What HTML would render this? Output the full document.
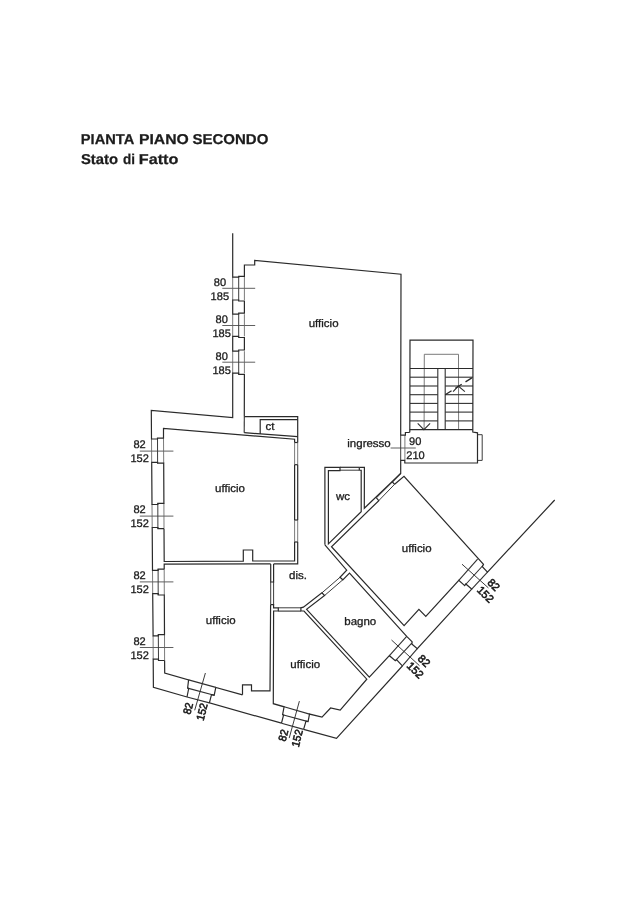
<!DOCTYPE html>
<html lang="it">
<head>
<meta charset="utf-8">
<title>Pianta Piano Secondo - Stato di Fatto</title>
<style>
html,body{margin:0;padding:0;background:#fff;}
body{width:636px;height:900px;overflow:hidden;}
svg{display:block;will-change:transform;}
svg text{font-family:"Liberation Sans",sans-serif;text-rendering:geometricPrecision;fill:#1c1c1c;stroke:#1c1c1c;stroke-width:0.3;}
svg text.r{stroke-width:0.6;}
svg text.ttl{stroke-width:0.25;}
.h path{stroke:#2a2a2a;stroke-width:1.2;fill:none;stroke-linejoin:miter;}
.m path{stroke:#303030;stroke-width:1.1;fill:none;}
.t path{stroke:#3c3c3c;stroke-width:1;fill:none;}
.t2 path{stroke:#6c6c6c;stroke-width:0.9;fill:none;}
.d path{stroke:#606060;stroke-width:1;fill:none;}
</style>
</head>
<body>
<svg width="636" height="900" viewBox="0 0 636 900">
<rect width="636" height="900" fill="#ffffff"/>
<g class="t2">
<path d="M232.7,277.0 L232.7,300.0"/>
<path d="M244.4,277.0 L244.4,300.0"/>
<path d="M232.7,314.2 L232.7,336.3"/>
<path d="M244.4,314.2 L244.4,336.3"/>
<path d="M232.7,351.2 L232.7,373.2"/>
<path d="M244.4,351.2 L244.4,373.2"/>
<path d="M151.5,439.0 L151.7,462.4"/>
<path d="M163.5,438.2 L163.7,463.2"/>
<path d="M152.0,504.5 L152.2,527.5"/>
<path d="M163.9,503.3 L164.0,528.7"/>
<path d="M152.5,570.3 L152.7,593.7"/>
<path d="M164.2,569.2 L164.3,595.0"/>
<path d="M153.1,635.8 L153.2,659.2"/>
<path d="M164.5,634.7 L164.6,660.5"/>
<path d="M404.9,435.2 L404.9,460.3"/>
<path d="M424.1,429.6 L424.3,354.3 L458.5,354.3 L458.6,429.6"/>
<path d="M294.6,442.5 L294.6,464.7"/>
<path d="M294.6,520.0 L294.6,542.0"/>
<path d="M297.7,442.5 L297.7,464.7"/>
<path d="M297.7,520.0 L297.7,542.0"/>
</g>
<g class="d">
<path d="M222.3,288.3 L255.2,288.3"/>
<path d="M222.3,325.5 L255.2,325.5"/>
<path d="M222.3,362.2 L255.2,362.2"/>
<path d="M139.8,451.1 L173.4,451.1"/>
<path d="M139.8,516.1 L173.4,516.1"/>
<path d="M139.8,581.9 L173.4,581.9"/>
<path d="M139.8,647.5 L173.4,647.5"/>
<path d="M390.6,448.0 L415.8,448.0"/>
</g>
<g class="t">
<path d="M238.7,277.0 L238.7,300.0"/>
<path d="M238.7,314.2 L238.7,336.3"/>
<path d="M238.7,351.2 L238.7,373.2"/>
<path d="M157.5,438.2 L157.6,463.2"/>
<path d="M157.8,503.3 L157.9,528.7"/>
<path d="M158.1,569.2 L158.2,595.0"/>
<path d="M158.3,634.7 L158.5,660.5"/>
<path d="M205.4,673.0 L194.7,710.3"/>
<path d="M270.7,582.0 L270.7,604.7"/>
<path d="M273.6,582.0 L273.6,604.7"/>
<path d="M278.3,607.8 L300.9,607.8"/>
<path d="M299.4,701.1 L289.2,738.1"/>
<path d="M321.9,592.9 L340.0,577.3"/>
<path d="M324.6,595.5 L342.8,579.8"/>
<path d="M391.5,640.0 L419.5,665.7"/>
<path d="M462.0,564.2 L488.4,587.9"/>
<path d="M376.4,497.9 L392.4,481.9"/>
<path d="M378.8,500.6 L394.6,484.3"/>
<path d="M340.0,470.2 L359.3,470.2"/>
<path d="M400.7,435.2 L400.7,460.3"/>
<path d="M477.5,434.7 L482.2,434.7 L482.2,460.4 L477.5,460.4"/>
</g>
<g class="m">
<path d="M244.3,416.6 L244.2,432.7"/>
<path d="M188.6,679.9 L215.8,687.4"/>
<path d="M187.0,697.0 L209.4,702.9"/>
<path d="M187.6,688.1 L214.2,695.2"/>
<path d="M278.3,611.1 L300.9,611.1"/>
<path d="M284.1,706.8 L309.5,714.1"/>
<path d="M281.5,723.2 L303.6,729.4"/>
<path d="M282.6,714.7 L308.1,721.6"/>
<path d="M389.4,655.7 L406.7,636.4"/>
<path d="M402.4,665.9 L417.3,648.6"/>
<path d="M395.7,660.4 L412.0,642.9"/>
<path d="M458.8,580.3 L477.6,559.2"/>
<path d="M471.7,589.1 L487.5,572.1"/>
<path d="M465.2,585.0 L482.9,565.5"/>
<path d="M410.0,377.2 L437.8,377.2"/>
<path d="M445.2,377.2 L473.0,377.2"/>
<path d="M410.0,386.0 L437.8,386.0"/>
<path d="M445.2,386.0 L473.0,386.0"/>
<path d="M410.0,394.7 L437.8,394.7"/>
<path d="M445.2,394.7 L473.0,394.7"/>
<path d="M410.0,403.4 L437.8,403.4"/>
<path d="M445.2,403.4 L473.0,403.4"/>
<path d="M410.0,412.1 L437.8,412.1"/>
<path d="M445.2,412.1 L473.0,412.1"/>
<path d="M410.0,420.9 L437.8,420.9"/>
<path d="M445.2,420.9 L473.0,420.9"/>
<path d="M437.8,368.5 L437.8,429.6"/>
<path d="M445.2,368.5 L445.2,429.6"/>
<path d="M417.7,423.3 L423.9,429.6 L430.1,423.3"/>
<path d="M453.1,391.7 L458.3,386.1 L464.9,391.7"/>
</g>
<g class="h">
<path d="M232.7,233.3 L232.7,277.1 L238.7,277.1 L238.7,276.3 L244.4,276.3 L244.4,265.0 L254.7,265.0 L254.7,260.3 L401.0,274.2 L400.7,435.2 L405.4,435.2 L405.4,432.5 L409.0,432.5 L409.8,431.9 L410.0,340.1 L473.0,340.1 L472.8,432.1 L477.5,432.8 L477.5,463.0 L404.8,463.0 L404.8,460.3 L400.7,460.3 L400.7,473.4 L364.3,508.3 L364.4,467.3 L359.3,467.3"/>
<path d="M232.7,300.0 L238.7,300.0 L238.7,301.0 L244.4,301.0 L244.4,313.1 L238.7,313.1 L238.7,314.2 L232.7,314.2 Z"/>
<path d="M232.7,336.3 L238.7,336.3 L238.7,337.5 L244.4,337.5 L244.4,350.0 L238.7,350.0 L238.7,351.2 L232.7,351.2 Z"/>
<path d="M244.3,416.6 L244.4,374.3 L238.7,374.3 L238.7,373.2 L232.7,373.2 L232.7,417.5 L151.3,410.5 L151.5,439.0 L157.5,439.0 L157.5,438.2 L163.5,438.2 L163.5,428.5 L294.6,439.2 L294.6,442.5"/>
<path d="M244.3,416.6 L297.7,416.6 L297.7,442.5"/>
<path d="M244.2,432.7 L297.7,436.7"/>
<path d="M260.2,433.9 L260.2,419.7 L297.7,419.7"/>
<path d="M151.7,462.4 L157.6,462.4 L157.6,463.2 L163.7,463.2 L163.9,503.3 L157.8,503.3 L157.8,504.5 L152.0,504.5 Z"/>
<path d="M164.0,528.7 L157.9,528.7 L157.9,527.5 L152.2,527.5 L152.5,570.3 L158.1,570.3 L158.1,569.2 L164.2,569.2"/>
<path d="M164.0,528.7 L164.2,561.5 L243.3,561.1 L243.3,550.0 L252.7,550.0 L252.7,561.0 L294.6,560.8 L294.6,542.0"/>
<path d="M164.2,569.2 L164.2,564.2 L270.7,563.9"/>
<path d="M273.6,563.9 L297.7,563.8 L297.7,542.0"/>
<path d="M152.7,593.7 L158.2,593.7 L158.2,595.0 L164.3,595.0 L164.5,634.7 L158.3,634.7 L158.3,635.8 L153.1,635.8 Z"/>
<path d="M164.6,660.5 L158.5,660.5 L158.5,659.2 L153.2,659.2 L153.4,687.3 L187.0,697.0"/>
<path d="M164.6,660.5 L164.7,673.0 L188.6,679.9 L187.6,688.1 L188.7,688.5 L187.0,697.0"/>
<path d="M242.5,694.8 L215.8,687.4 L214.2,695.2 L211.5,694.6 L209.4,702.9 L281.5,723.2"/>
<path d="M242.5,694.8 L242.5,684.8 L251.5,684.8 L251.5,690.9 L270.0,690.9 L270.6,604.7"/>
<path d="M270.7,563.9 L270.7,582.0 L273.6,582.0 L273.6,563.9"/>
<path d="M270.7,604.7 L273.6,604.7 L273.6,607.8 L278.3,607.8 L278.3,611.0 L273.6,611.0 L273.3,703.7 L284.1,706.8 L282.6,714.7 L283.6,715.0 L281.5,723.2"/>
<path d="M303.6,729.4 L306.0,721.1 L308.1,721.6 L309.5,714.1 L322.0,717.1 L330.6,708.0 L340.2,710.1 L366.8,679.2 L304.0,611.0 L300.9,611.0 L300.9,607.8 L303.4,607.2 L321.9,592.9 L324.6,595.5 L306.6,609.3 L369.3,677.2 L389.4,655.7 L395.3,660.8 L396.5,659.6 L402.4,665.9 L336.5,738.4 L303.6,729.4"/>
<path d="M324.9,544.8 L346.7,570.2 L340.0,577.3 L342.8,579.8 L349.5,573.0 L406.7,636.4 L412.2,641.9 L411.8,643.9 L417.3,648.6 L471.7,589.1 L465.8,584.0 L464.7,585.6 L458.8,580.3 L425.8,616.4 L418.9,609.3 L404.1,625.7 L331.5,546.7 L378.8,500.6 L376.4,497.9"/>
<path d="M394.6,484.3 L392.4,481.9 L400.7,473.4"/>
<path d="M394.6,484.3 L404.0,476.3 L483.5,564.3 L482.3,566.7 L487.5,572.1 L554.7,500.0"/>
<path d="M359.3,467.3 L359.3,470.0 L361.2,470.3 L361.2,511.8 L328.4,543.9 L328.4,470.6 L340.0,470.6 L340.0,467.3 L324.9,467.3 L324.9,544.8"/>
<path d="M340.0,467.3 L359.3,467.3"/>
<path d="M410.0,368.5 L473.0,368.5"/>
<path d="M409.8,429.6 L472.8,429.6"/>
<path d="M294.6,464.7 L294.6,520.0"/>
<path d="M297.7,464.7 L297.7,520.0"/>
<path d="M294.6,442.5 L297.7,442.5"/>
<path d="M294.6,464.7 L297.7,464.7"/>
<path d="M294.6,520.0 L297.7,520.0"/>
<path d="M294.6,542.0 L297.7,542.0"/>
<path d="M445.2,394.7 L472.5,377.5" stroke-dasharray="7.5 4.5" style="stroke-width:1.3"/>
</g>
<g opacity="0.999">
<text class="ttl" y="144.2" font-size="14.3" font-weight="bold"><tspan x="80.8" textLength="52.9" lengthAdjust="spacingAndGlyphs">PIANTA</tspan> <tspan x="138.9" textLength="49.9" lengthAdjust="spacingAndGlyphs">PIANO</tspan> <tspan x="192.4" textLength="76.0" lengthAdjust="spacingAndGlyphs">SECONDO</tspan></text>
<text class="ttl" y="164.0" font-size="14.3" font-weight="bold"><tspan x="81.0" textLength="37.0" lengthAdjust="spacingAndGlyphs">Stato</tspan> <tspan x="122.9" textLength="12.0" lengthAdjust="spacingAndGlyphs">di</tspan> <tspan x="138.8" textLength="39.6" lengthAdjust="spacingAndGlyphs">Fatto</tspan></text>
<text transform="translate(308.70 326.65) scale(1.045 1)" font-size="11">ufficio</text>
<text transform="translate(265.40 430.35) scale(1.045 1)" font-size="11">ct</text>
<text transform="translate(347.30 446.50) scale(1.045 1)" font-size="11">ingresso</text>
<text transform="translate(215.10 491.55) scale(1.045 1)" font-size="11">ufficio</text>
<text transform="translate(336.00 499.75) scale(1.045 1)" font-size="11">wc</text>
<text transform="translate(401.75 552.05) scale(1.045 1)" font-size="11">ufficio</text>
<text transform="translate(289.00 578.75) scale(1.045 1)" font-size="11">dis.</text>
<text transform="translate(205.80 623.85) scale(1.045 1)" font-size="11">ufficio</text>
<text transform="translate(344.30 624.50) scale(1.045 1)" font-size="11">bagno</text>
<text transform="translate(290.30 668.20) scale(1.045 1)" font-size="11">ufficio</text>
<text transform="translate(213.80 285.60) scale(1.005 1)" font-size="11">80</text>
<text transform="translate(210.60 299.70) scale(1.005 1)" font-size="11">185</text>
<text transform="translate(215.50 322.80) scale(1.005 1)" font-size="11">80</text>
<text transform="translate(212.40 336.60) scale(1.005 1)" font-size="11">185</text>
<text transform="translate(215.50 359.70) scale(1.005 1)" font-size="11">80</text>
<text transform="translate(212.40 373.50) scale(1.005 1)" font-size="11">185</text>
<text transform="translate(409.10 444.90) scale(1.005 1)" font-size="11">90</text>
<text transform="translate(406.30 458.70) scale(1.005 1)" font-size="11">210</text>
<text transform="translate(133.40 448.30) scale(1.005 1)" font-size="11">82</text>
<text transform="translate(130.40 462.30) scale(1.005 1)" font-size="11">152</text>
<text transform="translate(133.40 513.30) scale(1.005 1)" font-size="11">82</text>
<text transform="translate(130.40 527.30) scale(1.005 1)" font-size="11">152</text>
<text transform="translate(133.40 579.10) scale(1.005 1)" font-size="11">82</text>
<text transform="translate(130.40 593.10) scale(1.005 1)" font-size="11">152</text>
<text transform="translate(133.40 644.70) scale(1.005 1)" font-size="11">82</text>
<text transform="translate(130.40 658.70) scale(1.005 1)" font-size="11">152</text>
<text class="r" font-size="11" text-anchor="middle" transform="translate(187.9 708.4) rotate(-75.5) scale(0.95 1)" y="3.95">82</text>
<text class="r" font-size="11" text-anchor="middle" transform="translate(201.8 711.8) rotate(-75.5) scale(0.95 1)" y="3.95">152</text>
<text class="r" font-size="11" text-anchor="middle" transform="translate(283.1 735.3) rotate(-75.5) scale(0.95 1)" y="3.95">82</text>
<text class="r" font-size="11" text-anchor="middle" transform="translate(297.0 738.2) rotate(-75.5) scale(0.95 1)" y="3.95">152</text>
<text class="r" font-size="11" text-anchor="middle" transform="translate(424.2 660.8) rotate(44.5) scale(1.0 1)" y="3.95">82</text>
<text class="r" font-size="11" text-anchor="middle" transform="translate(415.4 670.1) rotate(44.5) scale(1.0 1)" y="3.95">152</text>
<text class="r" font-size="11" text-anchor="middle" transform="translate(493.8 584.8) rotate(44.5) scale(1.0 1)" y="3.95">82</text>
<text class="r" font-size="11" text-anchor="middle" transform="translate(485.5 594.3) rotate(44.5) scale(1.0 1)" y="3.95">152</text>
</g>
</svg>
</body>
</html>
